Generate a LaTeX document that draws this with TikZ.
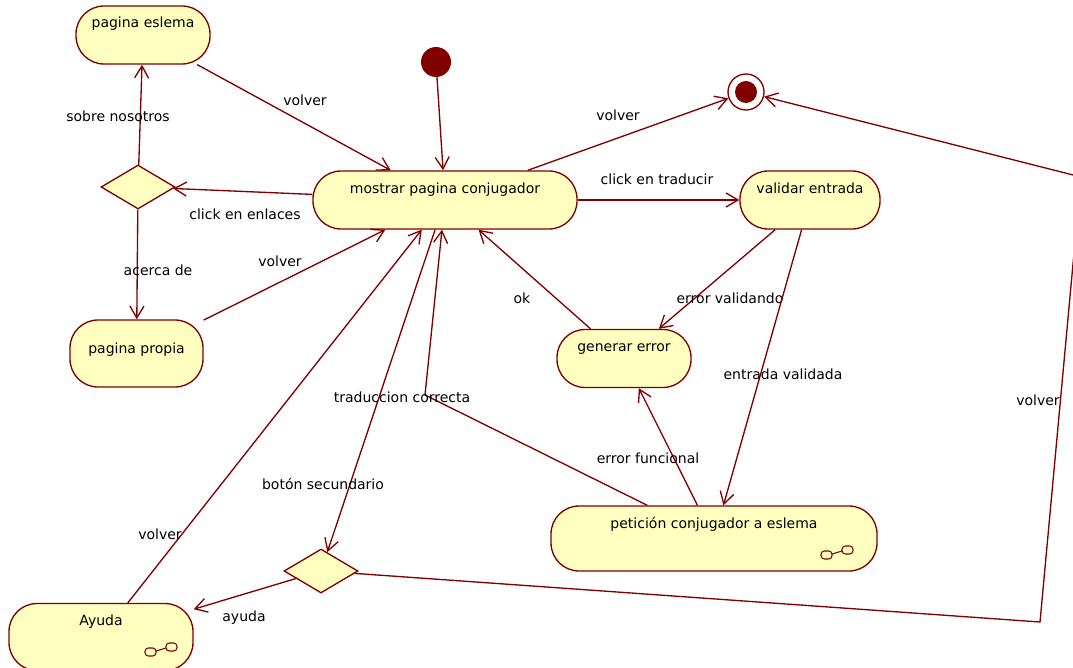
\documentclass[tikz,border=0pt]{standalone}
\usepackage{fontspec}
\setmainfont{DejaVu Sans}
\definecolor{umlred}{RGB}{128, 0, 0}
\definecolor{umlfill}{RGB}{255, 255, 192}
\usepackage{tikz}
\usetikzlibrary{shapes.geometric, arrows.meta, positioning}

\begin{document}
\begin{tikzpicture}[x=0.75pt, y=-0.75pt,
  font=\fontsize{10.5}{12}\selectfont,
  state/.style={draw=umlred, fill=umlfill, line width=1pt, rounded corners=21pt,
    inner sep=0pt, text height=16.5pt, text depth=#1},
  choice/.style={diamond, draw=umlred, fill=umlfill, line width=1pt, inner sep=0pt,
    minimum width=55.5pt, minimum height=33pt},
  trans/.style={umlred, line width=1pt, -{Straight Barb[length=9pt, width=10.5pt]}},
  lbl/.style={text=black, inner sep=1pt},
  subicon/.pic={
    \draw[umlred, line width=0.8pt, rounded corners=2.5pt] (-16,0) rectangle (-5,8);
    \draw[umlred, line width=0.8pt, rounded corners=2.5pt] (5,-5) rectangle (16,3);
    \draw[umlred, line width=0.8pt] (-5,3) -- (5,0);
  }]
  \useasboundingbox (0,0) rectangle (1073,667);

  % states
  \node[state=27pt, minimum width=100.5pt] (eslema) at (143,35) {pagina eslema};
  \node[state=27pt, minimum width=198pt] (mostrar) at (445,200) {mostrar pagina conjugador};
  \node[state=27pt, minimum width=105pt] (validar) at (810,200) {validar entrada};
  \node[state=25.5pt, text height=24.75pt, minimum width=99.75pt] (propia) at (136.5,353.5) {pagina propia};
  \node[state=27pt, minimum width=100.5pt] (generar) at (624,358.5) {generar error};
  \node[state=32.25pt, minimum width=244.5pt] (peticion) at (714,538.5) {petición conjugador a eslema};
  \node[state=33.75pt, minimum width=138pt] (ayuda) at (101,637) {Ayuda};
  \pic at (837,551) {subicon};
  \pic at (161,648) {subicon};

  % pseudo states
  \node[circle, fill=umlred, minimum size=22.5pt, inner sep=0pt] (start) at (436,62) {};
  \node[circle, draw=umlred, fill=white, line width=1pt, minimum size=27pt, inner sep=0pt,
    path picture={\fill[umlred] (path picture bounding box.center) circle (8.25pt);}] (stop) at (746,92) {};
  \node[choice] (enlaces) at (138,187) {};
  \node[choice] (secundario) at (321,571) {};

  % bends
  \coordinate (bendTrad) at (425,395);
  \coordinate (bendLow) at (1040,622);
  \coordinate (bendHigh) at (1081,177);

  % transitions round the main page
  \draw[trans] (start) -- (mostrar);
  \draw[trans] (eslema) -- (mostrar) node[lbl] (lbVolverA) at (305,100) {volver};
  \draw[trans] (mostrar) -- (enlaces) node[lbl] (lbEnlaces) at (245,214) {click en enlaces};
  \draw[trans] (enlaces) -- (eslema) node[lbl] (lbSobre) at (118,116) {sobre nosotros};
  \draw[trans] (enlaces) -- (propia) node[lbl] (lbAcerca) at (158,270) {acerca de};
  \draw[trans] (propia) -- (mostrar) node[lbl] (lbVolverB) at (280,261) {volver};
  \draw[trans] (ayuda) -- (mostrar) node[lbl] (lbVolverC) at (160,534) {volver};
  \draw[trans] (mostrar) -- (secundario) node[lbl] (lbSecundario) at (323,484) {botón secundario};
  \draw[trans] (secundario) -- (ayuda) node[lbl] (lbAyuda) at (244,618) {ayuda};
  \draw[trans] (mostrar) -- (stop) node[lbl] (lbVolverD) at (618,115) {volver};
  \draw[trans] (secundario) -- (bendLow) -- (bendHigh) -- (stop) node[lbl] (lbVolverE) at (1038,400) {volver};

  % translation flow
  \draw[trans] (mostrar) -- (validar) node[lbl] (lbTraducir) at (657,179) {click en traducir};
  \draw[trans] (validar) -- (generar) node[lbl] (lbValidando) at (730,298) {error validando};
  \draw[trans] (validar) -- (peticion) node[lbl] (lbValidada) at (783,374) {entrada validada};
  \draw[trans] (peticion) -- (generar) node[lbl] (lbFuncional) at (648,458) {error funcional};
  \draw[trans] (generar) -- (mostrar) node[lbl] (lbOk) at (522,298) {ok};
  \draw[trans] (peticion) -- (bendTrad) -- (mostrar) node[lbl] (lbCorrecta) at (402,397) {traduccion correcta};
\end{tikzpicture}
\end{document}
